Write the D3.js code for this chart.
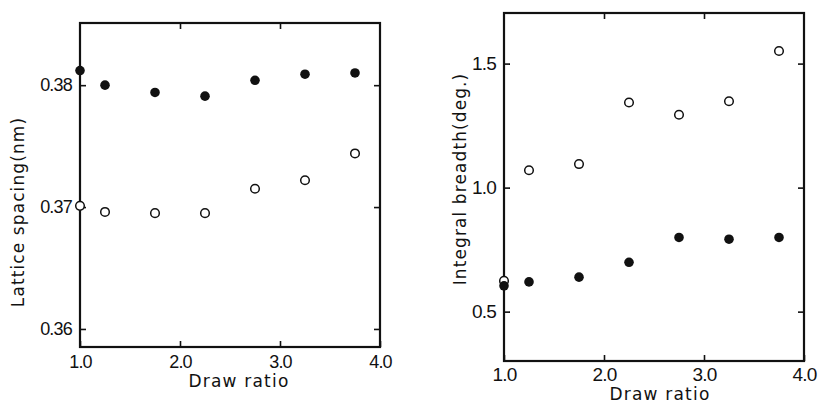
<!DOCTYPE html>
<html>
<head>
<meta charset="utf-8">
<style>
  body { margin: 0; background: #fff; }
  svg text { fill: #111; }
</style>
</head>
<body>
<div id="chart"></div>
<script src="https://cdn.jsdelivr.net/npm/d3@7"></script>
<script>
// draw ratios shared by both panels
var drawRatio = [1.0, 1.25, 1.75, 2.25, 2.75, 3.25, 3.75];

// left panel: lattice spacing (nm)
var latticeFilled = [0.3812, 0.3800, 0.3794, 0.3791, 0.3804, 0.3809, 0.3810];
var latticeOpen   = [0.3701, 0.3696, 0.3695, 0.3695, 0.3715, 0.3722, 0.3744];
var latticeTicks  = [0.36, 0.37, 0.38];

// right panel: integral breadth (deg.)
var breadthFilled = [0.604, 0.620, 0.639, 0.699, 0.799, 0.792, 0.799];
var breadthOpen   = [0.624, 1.070, 1.095, 1.343, 1.294, 1.348, 1.551];
var breadthTicks  = [0.5, 1.0, 1.5];

var xTicks = [1.0, 2.0, 3.0, 4.0];

var svg = d3.select("#chart").append("svg")
    .attr("width", 818)
    .attr("height", 403);

function panel(opt) {
  var x = d3.scaleLinear().domain([1, 4]).range([opt.left, opt.right]);
  var y = d3.scaleLinear().domain(opt.yDomain).range([opt.bottom, opt.top]);
  var g = svg.append("g");

  // bottom axis with labels, ticks pointing in
  g.append("g")
      .attr("transform", "translate(0," + opt.bottom + ")")
      .call(d3.axisBottom(x).tickValues(xTicks).tickFormat(d3.format(".1f"))
            .tickSizeInner(-6).tickSizeOuter(0).tickPadding(opt.xPad));
  // top axis, ticks only
  g.append("g")
      .attr("transform", "translate(0," + opt.top + ")")
      .call(d3.axisTop(x).tickValues([2, 3]).tickFormat("")
            .tickSizeInner(-6).tickSizeOuter(0));
  // left axis with labels
  g.append("g")
      .attr("transform", "translate(" + opt.left + ",0)")
      .call(d3.axisLeft(y).tickValues(opt.yTicks).tickFormat(opt.yFormat)
            .tickSizeInner(-6).tickSizeOuter(0).tickPadding(8));
  // right axis, ticks only
  g.append("g")
      .attr("transform", "translate(" + opt.right + ",0)")
      .call(d3.axisRight(y).tickValues(opt.yTicks).tickFormat("")
            .tickSizeInner(-6).tickSizeOuter(0));

  g.selectAll(".domain").remove();
  g.selectAll(".tick line").attr("stroke", "#111").attr("stroke-width", 1.6);
  g.selectAll(".tick text")
      .style("font-size", opt.tickSize + "px")
      .style("font-family", "'Liberation Sans', Arial, sans-serif")
      .style("letter-spacing", "-0.8px")
      .attr("fill", "#111");

  // frame
  g.append("rect")
      .attr("x", opt.left).attr("y", opt.top)
      .attr("width", opt.right - opt.left)
      .attr("height", opt.bottom - opt.top)
      .attr("fill", "none")
      .attr("stroke", "#111")
      .attr("stroke-width", 2.2);

  // open circles
  g.selectAll(".open").data(drawRatio).enter().append("circle")
      .attr("cx", function(d) { return x(d); })
      .attr("cy", function(d, i) { return y(opt.open[i]); })
      .attr("r", 4.3)
      .attr("fill", "white")
      .attr("stroke", "#111")
      .attr("stroke-width", 1.5);

  // filled circles
  g.selectAll(".filled").data(drawRatio).enter().append("circle")
      .attr("cx", function(d) { return x(d); })
      .attr("cy", function(d, i) { return y(opt.filled[i]); })
      .attr("r", 4.8)
      .attr("fill", "#111");

  // axis titles
  g.append("text")
      .attr("x", opt.xTitleX)
      .attr("y", opt.xTitleY)
      .attr("text-anchor", "middle")
      .style("font-family", "'DejaVu Sans', sans-serif")
      .style("font-size", "17px")
      .style("letter-spacing", "1.2px")
      .text("Draw ratio");

  g.append("text")
      .attr("transform", "translate(" + opt.yTitleX + "," + opt.yTitleY + ") rotate(-90)")
      .attr("text-anchor", "middle")
      .style("font-family", "'DejaVu Sans', sans-serif")
      .style("font-size", "17px")
      .style("letter-spacing", "1.1px")
      .text(opt.yTitle);
}

panel({
  left: 80, right: 380, top: 23, bottom: 347,
  yDomain: [0.35852, 0.3851],
  yTicks: latticeTicks,
  yFormat: d3.format(".2f"),
  open: latticeOpen, filled: latticeFilled,
  tickSize: 18, xPad: 8,
  xTitleX: 239, xTitleY: 387,
  yTitleX: 24, yTitleY: 212,
  yTitle: "Lattice spacing(nm)"
});

panel({
  left: 504, right: 804, top: 13, bottom: 361,
  yDomain: [0.301, 1.704],
  yTicks: breadthTicks,
  yFormat: d3.format(".1f"),
  open: breadthOpen, filled: breadthFilled,
  tickSize: 19, xPad: 7,
  xTitleX: 660, xTitleY: 400,
  yTitleX: 466, yTitleY: 179,
  yTitle: "Integral breadth(deg.)"
});
</script>
</body>
</html>
